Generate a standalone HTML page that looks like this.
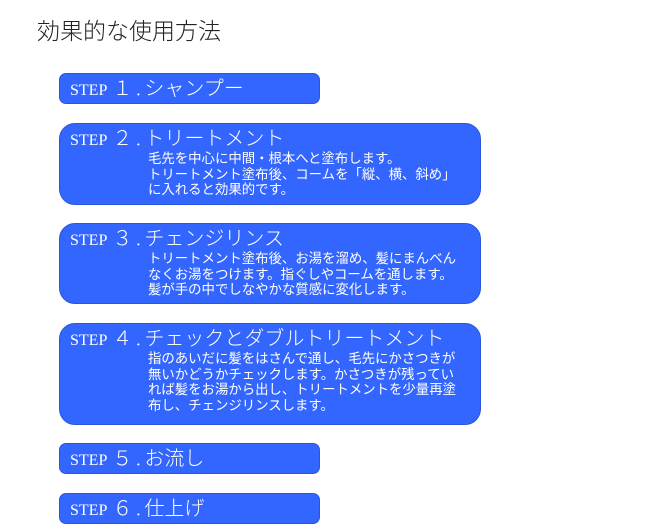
<!DOCTYPE html>
<html><head><meta charset="utf-8"><style>
body{margin:0;width:655px;height:524px;background:#fff;position:relative;overflow:hidden;font-family:"Liberation Serif","Noto Sans CJK JP",sans-serif;}
.t{position:absolute;left:37px;top:12px;font-size:23px;color:#222;font-family:"Noto Sans CJK JP",sans-serif;font-weight:300;}
.b{position:absolute;left:59px;width:261px;background:#3366ff;color:#fff;border-radius:7px;box-sizing:border-box;border:1px solid #2a55dd;}
.w{width:422px;border-radius:16px;}
.h{position:absolute;left:10px;top:0px;font-size:20px;white-space:nowrap;line-height:26px;}
.h small{font-size:16px;margin-right:5px;}
.h span{font-family:"Noto Sans CJK JP",sans-serif;font-weight:300;}
.h i{font-style:normal;display:inline-block;width:12px;text-align:center;}
.p{position:absolute;left:88px;top:26px;font-size:13.4px;line-height:15.5px;white-space:nowrap;font-family:"Noto Sans CJK JP",sans-serif;}
</style></head><body>
<div class="t">効果的な使用方法</div>
<div class="b" style="top:73px;height:31px"><div class="h"><small>STEP</small><span>１<i>.</i>シャンプー</span></div></div>
<div class="b w" style="top:123px;height:82px"><div class="h"><small>STEP</small><span>２<i>.</i>トリートメント</span></div><div class="p">毛先を中心に中間・根本へと塗布します。<br>トリートメント塗布後、コームを「縦、横、斜め」<br>に入れると効果的です。</div></div>
<div class="b w" style="top:223px;height:81px"><div class="h"><small>STEP</small><span>３<i>.</i>チェンジリンス</span></div><div class="p">トリートメント塗布後、お湯を溜め、髪にまんべん<br>なくお湯をつけます。指ぐしやコームを通します。<br>髪が手の中でしなやかな質感に変化します。</div></div>
<div class="b w" style="top:323px;height:102px"><div class="h"><small>STEP</small><span>４<i>.</i>チェックとダブルトリートメント</span></div><div class="p">指のあいだに髪をはさんで通し、毛先にかさつきが<br>無いかどうかチェックします。かさつきが残ってい<br>れば髪をお湯から出し、トリートメントを少量再塗<br>布し、チェンジリンスします。</div></div>
<div class="b" style="top:443px;height:31px"><div class="h"><small>STEP</small><span>５<i>.</i>お流し</span></div></div>
<div class="b" style="top:493px;height:31px"><div class="h"><small>STEP</small><span>６<i>.</i>仕上げ</span></div></div>
</body></html>
